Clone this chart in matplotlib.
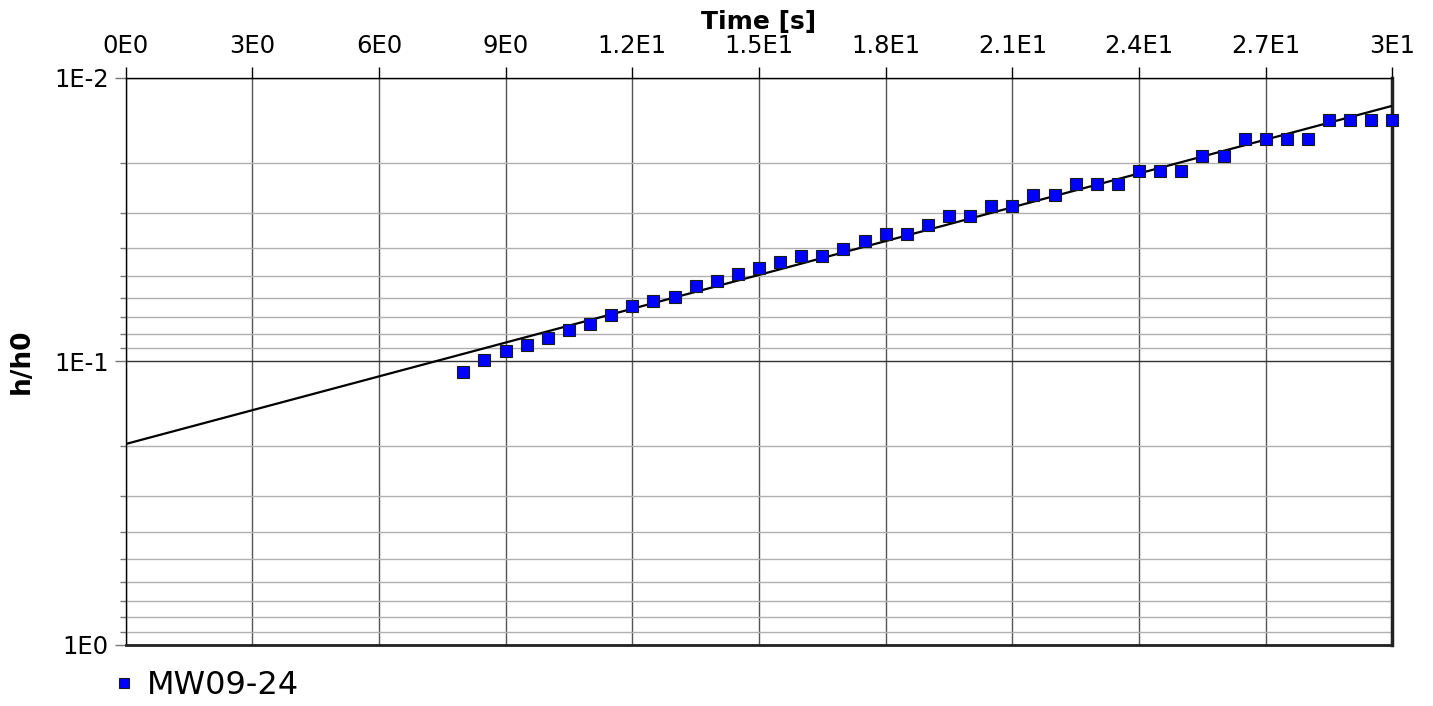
import numpy as np
import matplotlib
matplotlib.use("Agg")
import matplotlib.pyplot as plt
from matplotlib.ticker import FixedLocator, FixedFormatter, LogLocator, NullFormatter

# slug test recovery, well MW09-24
time_s = [8.0, 8.5, 9.0, 9.5, 10.0, 10.5, 11.0, 11.5, 12.0, 12.5,
          13.0, 13.5, 14.0, 14.5, 15.0, 15.5, 16.0, 16.5, 17.0, 17.5,
          18.0, 18.5, 19.0, 19.5, 20.0, 20.5, 21.0, 21.5, 22.0, 22.5,
          23.0, 23.5, 24.0, 24.5, 25.0, 25.5, 26.0, 26.5, 27.0, 27.5,
          28.0, 28.5, 29.0, 29.5, 30.0]
h_h0 = [0.1091, 0.0994, 0.0922, 0.0878, 0.0832, 0.0779, 0.0739, 0.0688, 0.0638, 0.0614,
        0.0593, 0.0545, 0.0521, 0.0494, 0.0471, 0.0449, 0.0425, 0.0425, 0.0403, 0.0377,
        0.0356, 0.0356, 0.0331, 0.0307, 0.0307, 0.0283, 0.0283, 0.0260, 0.0260, 0.0237,
        0.0237, 0.0237, 0.0213, 0.0213, 0.0213, 0.0189, 0.0189, 0.0165, 0.0165, 0.0165,
        0.0165, 0.01416, 0.01416, 0.01416, 0.01416]

# straight-line fit (log-linear), end points
fit_t = [0.0, 30.0]
fit_h = [0.1963, 0.01258]

x_ticks = [0, 3, 6, 9, 12, 15, 18, 21, 24, 27, 30]
x_tick_labels = ["0E0", "3E0", "6E0", "9E0", "1.2E1", "1.5E1", "1.8E1",
                 "2.1E1", "2.4E1", "2.7E1", "3E1"]
y_ticks = [0.01, 0.1, 1.0]
y_tick_labels = ["1E-2", "1E-1", "1E0"]

plt.rcParams['font.family'] = ['DejaVu Sans']

fig = plt.figure(figsize=(14.33, 7.06), dpi=100)
ax = fig.add_axes([0.0876, 0.0871, 0.8841, 0.8031])

ax.plot(fit_t, fit_h, color='black', lw=1.6, zorder=3)
ax.plot(time_s, h_h0, ls='none', marker='s', ms=8.2, mfc='#0000ff',
        mec='#1a1a1a', mew=0.8, zorder=4, clip_on=False, label='MW09-24')

ax.set_yscale('log')
ax.set_xlim(0, 30)
ax.set_ylim(1.0, 0.01)

ax.xaxis.set_major_locator(FixedLocator(x_ticks))
ax.xaxis.set_major_formatter(FixedFormatter(x_tick_labels))
ax.xaxis.tick_top()
ax.xaxis.set_label_position('top')
ax.yaxis.set_major_locator(FixedLocator(y_ticks))
ax.yaxis.set_major_formatter(FixedFormatter(y_tick_labels))
ax.yaxis.set_minor_locator(LogLocator(base=10, subs=np.arange(2, 10)))
ax.yaxis.set_minor_formatter(NullFormatter())

ax.tick_params(axis='x', which='major', length=8, width=1, color='black',
               labelsize=17.5, pad=6)
ax.tick_params(axis='y', which='major', length=8, width=1, color='#777777',
               labelsize=17.5, pad=4)
ax.tick_params(axis='y', which='minor', length=4, width=1, color='#777777')

ax.grid(True, axis='x', which='major', color='#555555', lw=1.0)
ax.grid(True, axis='y', which='major', color='#333333', lw=1.0)
ax.grid(True, axis='y', which='minor', color='#b0b0b0', lw=1.0)
ax.set_axisbelow(True)

for side in ['top', 'left']:
    ax.spines[side].set_linewidth(1.0)
    ax.spines[side].set_color('black')
ax.spines['right'].set_linewidth(2.5)
ax.spines['right'].set_color('#222222')
ax.spines['bottom'].set_linewidth(2.0)
ax.spines['bottom'].set_color('#222222')

ax.set_xlabel('Time [s]', fontsize=18, fontweight='bold', labelpad=4)
ax.set_ylabel('h/h0', fontsize=19, fontweight='bold', labelpad=14)

fig.legend(loc='center left', bbox_to_anchor=(0.081, 1 - 686 / 706),
           frameon=False, fontsize=23, handlelength=0.5, handletextpad=0.45,
           borderpad=0, borderaxespad=0, markerscale=0.85)

fig.savefig('out.png', dpi=100, facecolor='white')
